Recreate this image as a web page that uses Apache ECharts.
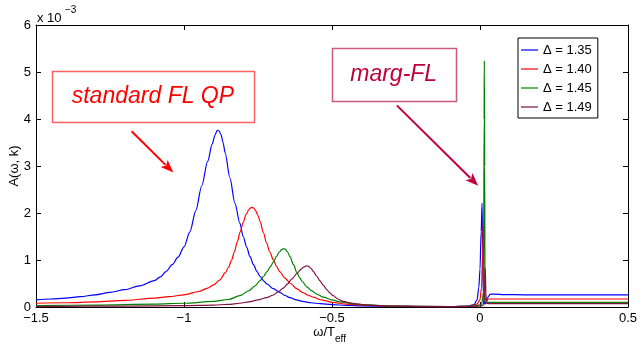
<!DOCTYPE html>
<html>
<head>
<meta charset="utf-8">
<script src="https://cdn.jsdelivr.net/npm/echarts@6/dist/echarts.min.js"></script>
<style>
  html, body { margin: 0; padding: 0; background: #ffffff; }
  #chart { width: 640px; height: 344px; }
</style>
</head>
<body>
<div id="chart"></div>
<script>
// Spectral function A(ω, k) versus ω/T_eff, values in units of 1e-3.

const xTickLabels = ['−1.5', '−1', '−0.5', '0', '0.5'];
const yTickLabels = ['0', '1', '2', '3', '4', '5', '6'];
const seriesNames = ['Δ = 1.35', 'Δ = 1.40', 'Δ = 1.45', 'Δ = 1.49'];

// [ω/T_eff, A / 1e-3]
const spectrum135 = [
  [-1.5, 0.15], [-1.45, 0.17], [-1.4, 0.19], [-1.35, 0.22], [-1.3, 0.26],
  [-1.25, 0.31], [-1.2, 0.37], [-1.15, 0.45], [-1.1, 0.56], [-1.08, 0.64],
  [-1.06, 0.76], [-1.04, 0.9], [-1.02, 1.06], [-1.0, 1.28], [-0.98, 1.6],
  [-0.96, 2.05], [-0.94, 2.58], [-0.92, 3.1], [-0.905, 3.46], [-0.895, 3.66],
  [-0.888, 3.76], [-0.882, 3.75], [-0.875, 3.67], [-0.868, 3.5], [-0.861, 3.28],
  [-0.845, 2.75], [-0.828, 2.21], [-0.811, 1.78], [-0.8, 1.5], [-0.788, 1.27],
  [-0.777, 1.07], [-0.765, 0.9], [-0.754, 0.76], [-0.743, 0.65], [-0.73, 0.55],
  [-0.72, 0.49], [-0.698, 0.39], [-0.676, 0.31], [-0.66, 0.25], [-0.642, 0.2],
  [-0.62, 0.15], [-0.6, 0.12], [-0.57, 0.09], [-0.54, 0.07], [-0.5, 0.05],
  [-0.45, 0.035], [-0.4, 0.025], [-0.3, 0.015], [-0.2, 0.01], [-0.1, 0.01],
  [-0.04, 0.02], [-0.02, 0.05], [-0.01, 0.15], [-0.004, 0.4], [0, 0.8],
  [0.004, 1.6], [0.007, 2.21], [0.009, 1.2], [0.011, 0.3], [0.016, 0.06],
  [0.022, 0.1], [0.028, 0.22], [0.034, 0.27], [0.05, 0.275], [0.08, 0.265],
  [0.15, 0.26], [0.3, 0.26], [0.5, 0.26]
];

const spectrum140 = [
  [-1.5, 0.08], [-1.4, 0.09], [-1.3, 0.11], [-1.2, 0.14], [-1.1, 0.19],
  [-1.05, 0.22], [-1.0, 0.26], [-0.95, 0.33], [-0.92, 0.4], [-0.9, 0.47],
  [-0.88, 0.57], [-0.86, 0.73], [-0.85, 0.84], [-0.839, 1.0], [-0.83, 1.17],
  [-0.82, 1.38], [-0.81, 1.6], [-0.8, 1.8], [-0.79, 1.97], [-0.78, 2.08],
  [-0.772, 2.12], [-0.765, 2.11], [-0.758, 2.05], [-0.75, 1.95], [-0.743, 1.82],
  [-0.732, 1.59], [-0.721, 1.36], [-0.71, 1.17], [-0.698, 1.0], [-0.687, 0.86],
  [-0.676, 0.75], [-0.66, 0.62], [-0.64, 0.5], [-0.619, 0.39], [-0.6, 0.31],
  [-0.58, 0.25], [-0.563, 0.21], [-0.541, 0.16], [-0.52, 0.13], [-0.5, 0.1],
  [-0.45, 0.06], [-0.4, 0.04], [-0.3, 0.02], [-0.2, 0.01], [-0.1, 0.01],
  [-0.03, 0.02], [-0.01, 0.06], [0, 0.15], [0.005, 0.4], [0.009, 1.1],
  [0.011, 1.8], [0.013, 0.9], [0.016, 0.2], [0.02, 0.15], [0.03, 0.17],
  [0.1, 0.17], [0.5, 0.17]
];

const spectrum145 = [
  [-1.5, 0.03], [-1.3, 0.04], [-1.1, 0.06], [-1.0, 0.08], [-0.9, 0.12],
  [-0.85, 0.16], [-0.811, 0.24], [-0.78, 0.35], [-0.76, 0.45], [-0.743, 0.56],
  [-0.73, 0.66], [-0.72, 0.75], [-0.708, 0.86], [-0.698, 0.96], [-0.688, 1.07],
  [-0.678, 1.17], [-0.67, 1.22], [-0.664, 1.24], [-0.658, 1.23], [-0.65, 1.17],
  [-0.642, 1.07], [-0.63, 0.9], [-0.619, 0.74], [-0.61, 0.63], [-0.6, 0.54],
  [-0.585, 0.43], [-0.57, 0.35], [-0.55, 0.27], [-0.529, 0.21], [-0.5, 0.15],
  [-0.473, 0.11], [-0.43, 0.07], [-0.4, 0.05], [-0.3, 0.02], [-0.1, 0.01],
  [-0.02, 0.02], [0.005, 0.05], [0.012, 0.3], [0.014, 4.0], [0.0146, 5.24],
  [0.016, 3.0], [0.017, 0.1], [0.03, 0.1], [0.5, 0.1]
];

const spectrum149 = [
  [-1.5, 0.01], [-1.2, 0.02], [-1.0, 0.03], [-0.9, 0.04], [-0.85, 0.055],
  [-0.811, 0.08], [-0.78, 0.11], [-0.75, 0.15], [-0.721, 0.2], [-0.7, 0.25],
  [-0.68, 0.33], [-0.665, 0.4], [-0.65, 0.49], [-0.635, 0.6], [-0.619, 0.71],
  [-0.605, 0.8], [-0.595, 0.85], [-0.587, 0.875], [-0.58, 0.87], [-0.572, 0.83],
  [-0.563, 0.76], [-0.552, 0.66], [-0.541, 0.56], [-0.529, 0.46], [-0.518, 0.37],
  [-0.507, 0.3], [-0.496, 0.24], [-0.48, 0.17], [-0.462, 0.12], [-0.439, 0.09],
  [-0.41, 0.06], [-0.383, 0.04], [-0.3, 0.02], [-0.1, 0.01], [-0.02, 0.01],
  [0.01, 0.03], [0.015, 0.2], [0.018, 0.83], [0.02, 0.3], [0.022, 0.08],
  [0.03, 0.07], [0.5, 0.07]
];

// Callout texts and the data-space boxes / arrows that go with them
const calloutTexts = ['standard FL QP', 'marg-FL'];
const calloutBoxes = [[-1.446, 5.02, -0.764, 3.93], [-0.501, 5.51, -0.082, 4.38]];
const calloutArrows = [[-1.177, 3.74, -1.036, 2.86], [-0.281, 4.29, -0.006, 2.58]];

const FONT = '"Liberation Sans", Arial, Helvetica, sans-serif';
const lineColors = ['#0000ff', '#ff0000', '#008000', '#7f1040'];
const allSpectra = [spectrum135, spectrum140, spectrum145, spectrum149];

const chart = echarts.init(document.getElementById('chart'), null, { renderer: 'canvas' });

const tickStyle = { inside: true, length: 5, lineStyle: { color: '#000', width: 1 } };
const axisLineStyle = { show: true, onZero: false, lineStyle: { color: '#000', width: 1 } };

// Legend key: a thin horizontal stroke centred in a 17x14 box
const legendKey = 'path://M0,0 M0,6.4 L17,6.4 L17,7.6 L0,7.6 Z M17,14';

const option = {
  animation: false,
  backgroundColor: '#ffffff',
  grid: { left: 36, right: 12, top: 25, bottom: 37, containLabel: false },
  xAxis: [
    {
      type: 'value', min: -1.5, max: 0.5, interval: 0.5, position: 'bottom',
      axisLine: axisLineStyle, axisTick: tickStyle, splitLine: { show: false },
      axisLabel: {
        margin: 5, color: '#000', fontSize: 13, fontFamily: FONT,
        formatter: v => xTickLabels[Math.round((v + 1.5) / 0.5)]
      }
    },
    {
      type: 'value', min: -1.5, max: 0.5, interval: 0.5, position: 'top',
      axisLine: axisLineStyle, axisTick: tickStyle, splitLine: { show: false },
      axisLabel: { show: false }
    }
  ],
  yAxis: [
    {
      type: 'value', min: 0, max: 6, interval: 1, position: 'left',
      axisLine: axisLineStyle, axisTick: tickStyle, splitLine: { show: false },
      axisLabel: {
        margin: 5, color: '#000', fontSize: 13, fontFamily: FONT,
        formatter: v => yTickLabels[Math.round(v)]
      }
    },
    {
      type: 'value', min: 0, max: 6, interval: 1, position: 'right',
      axisLine: axisLineStyle, axisTick: tickStyle, splitLine: { show: false },
      axisLabel: { show: false }
    }
  ],
  legend: {
    orient: 'vertical', left: 518, top: 38,
    backgroundColor: '#ffffff', borderColor: '#000', borderWidth: 1,
    padding: [5, 6, 4, 3], itemGap: 5, itemWidth: 17, itemHeight: 14,
    icon: legendKey,
    textStyle: { fontSize: 13, color: '#000', fontFamily: FONT },
    data: seriesNames
  },
  series: allSpectra.map((d, i) => ({
    name: seriesNames[i],
    type: 'line',
    data: d,
    symbol: 'none',
    showSymbol: false,
    smooth: 0.3,
    smoothMonotone: 'x',
    clip: true,
    color: lineColors[i],
    lineStyle: { color: lineColors[i], width: 1.2 },
    z: 2 + i
  }))
};

chart.setOption(option);

// Axis titles, exponent and callouts are drawn as graphic elements
const calloutStyle = [
  { text: '#ff0000', border: '#ff6060', arrow: '#ff0000' },
  { text: '#c0003c', border: '#cc5a80', arrow: '#c0003c' }
];

const graphics = [
  { type: 'text', left: 37, top: 12, style: { text: 'x 10', font: '13px ' + FONT, fill: '#000' } },
  { type: 'text', left: 65, top: 5, style: { text: '−3', font: '10px ' + FONT, fill: '#000' } },
  { type: 'text', x: 14, y: 166, rotation: Math.PI / 2,
    style: { text: 'A(ω, k)', font: '13px ' + FONT, fill: '#000', align: 'center', verticalAlign: 'middle' } },
  { type: 'text', x: 335, y: 332,
    style: { text: 'ω/T', font: '13px ' + FONT, fill: '#000', align: 'right', verticalAlign: 'middle' } },
  { type: 'text', x: 335, y: 339,
    style: { text: 'eff', font: '10px ' + FONT, fill: '#000', align: 'left', verticalAlign: 'middle' } }
];

calloutBoxes.forEach((b, i) => {
  const p1 = chart.convertToPixel({ xAxisIndex: 0, yAxisIndex: 0 }, [b[0], b[1]]);
  const p2 = chart.convertToPixel({ xAxisIndex: 0, yAxisIndex: 0 }, [b[2], b[3]]);
  graphics.push({
    type: 'rect', z: 20,
    shape: { x: Math.round(p1[0]) + 0.5, y: Math.round(p1[1]) + 0.5,
             width: Math.round(p2[0] - p1[0]), height: Math.round(p2[1] - p1[1]) },
    style: { fill: '#ffffff', stroke: calloutStyle[i].border, lineWidth: 1.5 }
  });
  graphics.push({
    type: 'text', z: 21,
    x: (p1[0] + p2[0]) / 2, y: (p1[1] + p2[1]) / 2,
    style: { text: calloutTexts[i], font: 'italic 23px ' + FONT, fill: calloutStyle[i].text,
             align: 'center', verticalAlign: 'middle' }
  });
});

calloutArrows.forEach((a, i) => {
  const s = chart.convertToPixel({ xAxisIndex: 0, yAxisIndex: 0 }, [a[0], a[1]]);
  const t = chart.convertToPixel({ xAxisIndex: 0, yAxisIndex: 0 }, [a[2], a[3]]);
  const dx = t[0] - s[0], dy = t[1] - s[1];
  const len = Math.sqrt(dx * dx + dy * dy);
  const ux = dx / len, uy = dy / len;
  const headLen = 13, headHalf = 5;
  const bx = t[0] - ux * headLen, by = t[1] - uy * headLen;
  graphics.push({
    type: 'line', z: 20,
    shape: { x1: s[0], y1: s[1], x2: bx + ux * 2, y2: by + uy * 2 },
    style: { stroke: calloutStyle[i].arrow, lineWidth: 2 }
  });
  graphics.push({
    type: 'polygon', z: 20,
    shape: { points: [
      [t[0], t[1]],
      [bx - uy * headHalf, by + ux * headHalf],
      [bx + ux * 3, by + uy * 3],
      [bx + uy * headHalf, by - ux * headHalf]
    ] },
    style: { fill: calloutStyle[i].arrow }
  });
});

chart.setOption({ graphic: graphics });
</script>
</body>
</html>
